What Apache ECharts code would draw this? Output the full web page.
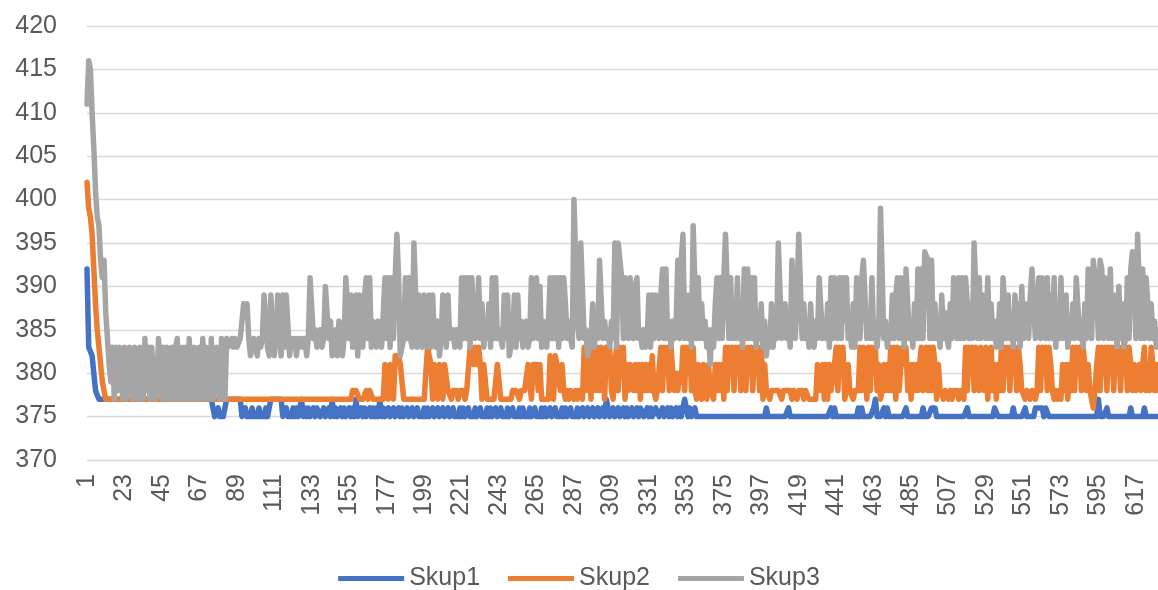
<!DOCTYPE html>
<html>
<head>
<meta charset="utf-8">
<script src="https://cdn.jsdelivr.net/npm/echarts@6/dist/echarts.min.js"></script>
<style>
html,body{margin:0;padding:0;background:#fff;}
#chart{width:1158px;height:590px;}
</style>
</head>
<body>
<div id="chart"></div>
<script>
const seriesNames = ['Skup1', 'Skup2', 'Skup3'];
const yTicks = [370, 375, 380, 385, 390, 395, 400, 405, 410, 415, 420];

const Skup1 = [
392,383,383,382,380,378,378,377,377,377,
377,377,377,377,377,377,377,377,377,377,
377,377,377,377,377,377,377,377,377,377,
377,377,377,377,377,377,377,377,377,377,
377,377,377,377,377,377,377,377,377,377,
377,377,377,377,377,377,377,377,377,377,
377,377,377,377,377,377,377,377,377,377,
377,377,377,377,377,375,375,376,375,375,
375,375,377,377,377,377,377,377,377,377,
377,375,375,376,375,375,375,376,375,375,
375,376,375,375,375,376,375,375,377,377,
377,377,377,377,377,375,375,376,375,375,
375,376,375,376,375,375,377,375,376,375,
376,375,375,376,375,376,376,375,375,376,
375,375,376,375,377,375,376,375,375,376,
375,376,375,375,376,375,376,375,377,375,
375,376,375,376,375,375,376,375,376,375,
376,375,377,375,376,375,375,376,375,375,
376,375,375,376,375,376,375,375,376,375,
375,376,375,375,376,375,375,375,376,375,
376,375,375,376,375,375,376,375,375,376,
375,375,376,375,375,376,375,375,375,376,
375,376,375,375,376,375,375,375,376,375,
375,376,375,375,375,376,375,376,375,375,
376,375,375,376,375,375,375,376,375,375,
376,375,375,375,376,375,376,375,375,375,
376,375,375,376,375,375,375,376,375,376,
375,375,376,375,375,376,375,375,375,376,
375,376,375,375,376,375,375,375,376,375,
375,376,375,375,376,375,375,376,375,375,
376,375,375,376,375,377,376,375,375,376,
375,375,376,375,375,376,375,376,375,375,
376,375,375,376,375,376,376,375,375,376,
375,376,375,375,376,376,375,375,376,375,
375,376,375,376,375,375,376,375,376,375,
376,377,376,375,376,375,375,376,375,375,
375,375,375,375,375,375,375,375,375,375,
375,375,375,375,375,375,375,375,375,375,
375,375,375,375,375,375,375,375,375,375,
375,375,375,375,375,375,375,375,375,376,
375,375,375,375,375,375,375,375,375,375,
375,375,376,375,375,375,375,375,375,375,
375,375,375,375,375,375,375,375,375,375,
375,375,375,375,375,375,375,376,375,376,
375,375,375,375,375,375,375,375,375,375,
375,375,375,376,375,376,375,375,375,375,
375,375,376,377,375,375,375,375,376,375,
376,375,375,375,375,375,375,375,375,375,
375,376,375,375,375,375,375,375,375,375,
375,376,375,375,375,375,376,376,376,375,
375,375,375,375,375,375,375,375,375,375,
375,375,375,375,375,375,375,376,375,375,
375,375,375,375,375,375,375,375,375,375,
375,375,375,376,376,375,375,375,375,375,
375,375,375,375,376,375,375,375,375,375,
375,376,375,375,375,375,375,376,376,376,
376,376,375,376,376,375,375,375,375,375,
375,375,375,375,375,375,375,375,375,375,
375,375,375,375,375,375,375,375,375,375,
375,375,375,375,377,375,375,375,375,376,
375,375,375,375,375,375,375,375,375,375,
375,375,375,376,375,375,375,375,375,375,
375,376,375,375,375,375,375,375,375,375
];

const Skup2 = [
402,399,398,396,392,388,385,383,381,379,
378,377,377,377,377,377,377,377,377,377,
377,377,377,377,377,377,377,377,377,377,
377,377,377,377,377,377,377,377,377,377,
377,377,377,377,377,377,377,377,377,377,
377,377,377,377,377,377,377,377,377,377,
377,377,377,377,377,377,377,377,377,377,
377,377,377,377,377,377,377,377,377,377,
377,377,377,377,377,377,377,377,377,377,
377,377,377,377,377,377,377,377,377,377,
377,377,377,377,377,377,377,377,377,377,
377,377,377,377,377,377,377,377,377,377,
377,377,377,377,377,377,377,377,377,377,
377,377,377,377,377,377,377,377,377,377,
377,377,377,377,377,377,377,377,377,377,
377,377,377,377,377,377,378,378,378,378,
377,377,377,377,378,377,378,378,377,377,
377,377,377,377,377,381,381,377,381,381,
377,382,382,382,381,381,377,377,377,377,
377,377,377,377,377,377,377,377,377,377,
383,383,381,377,381,381,377,381,381,377,
381,381,378,378,377,378,378,378,377,378,
378,378,377,378,378,383,383,381,383,381,
383,381,377,381,381,377,377,377,377,377,
377,381,381,377,377,377,377,377,377,377,
378,378,378,378,377,378,378,378,378,381,
381,377,381,381,381,378,381,377,377,377,
377,377,382,382,377,382,381,381,378,381,
378,377,378,377,378,378,377,378,377,378,
378,377,383,378,383,381,377,383,381,378,
383,378,383,381,377,383,381,383,378,377,
381,383,378,383,381,383,377,381,378,381,
380,378,381,378,381,377,381,378,381,378,
381,378,382,378,377,378,378,383,378,383,
381,383,378,383,380,378,380,378,380,379,
383,378,383,381,383,378,383,378,377,381,
378,377,381,378,377,381,378,378,377,381,
378,381,378,381,377,383,378,383,381,383,
378,383,381,383,378,383,381,378,383,381,
383,378,383,381,383,378,383,377,381,378,
378,377,378,378,378,378,378,378,377,378,
378,378,378,378,377,378,378,377,378,378,
378,377,378,378,377,377,377,377,377,381,
381,378,381,377,381,377,381,378,378,381,
383,378,383,381,383,377,378,381,378,378,
377,378,378,378,383,378,383,381,377,383,
378,383,381,383,378,381,377,378,381,378,
381,378,383,378,383,377,383,378,381,383,
381,383,378,381,377,381,378,381,378,381,
383,378,381,383,378,383,378,383,381,377,
381,378,378,377,378,378,377,378,377,378,
378,378,377,378,378,377,383,378,383,381,
383,378,383,381,378,383,381,378,383,377,
381,383,378,381,377,381,378,383,378,383,
381,383,378,383,381,383,378,383,381,378,
378,377,378,378,377,378,378,377,378,383,
378,383,381,383,378,383,381,378,377,378,
377,378,377,381,378,381,377,381,378,383,
378,383,381,383,378,383,381,378,381,378,
378,376,378,381,383,378,383,381,383,378,
383,381,383,378,383,381,383,378,383,381,
383,378,383,381,378,381,378,378,381,378,
381,383,378,381,378,383,381,378,381,378
];

const Skup3 = [
411,416,415,410,406,401,398,397,393,391,
393,387,384,381,379,383,377,383,378,383,
383,377,383,377,378,383,383,377,383,378,
377,383,383,377,384,378,383,377,383,383,
377,378,384,384,377,383,377,383,379,377,
383,377,383,384,377,378,383,377,383,377,
384,384,377,383,378,377,383,377,384,377,
383,383,377,384,377,377,383,378,377,384,
383,377,384,383,383,384,383,384,383,383,
384,384,388,387,388,384,382,383,384,383,
382,384,383,384,389,389,383,382,389,384,
382,384,389,389,382,389,383,389,389,382,
384,383,384,382,384,383,384,383,384,382,
384,391,391,384,385,383,384,385,383,384,
390,390,384,386,382,384,385,382,386,384,
382,384,391,391,384,389,383,384,389,382,
389,384,383,389,391,384,391,383,386,384,
383,386,384,383,387,391,384,391,383,391,
384,391,396,391,382,382,384,391,384,391,
384,383,395,389,383,389,384,383,389,384,
383,389,383,389,384,383,386,382,384,389,
388,383,389,384,384,385,383,385,384,383,
391,384,391,384,391,383,391,386,384,386,
391,384,388,383,386,384,388,383,391,384,
391,384,385,384,383,389,384,389,382,382,
384,389,383,389,384,386,383,384,386,383,
384,391,384,390,391,384,390,383,386,384,
383,386,391,384,391,384,391,383,391,384,
391,388,384,386,384,383,400,400,386,384,
395,395,384,385,382,382,384,388,383,386,
384,393,393,384,386,384,385,383,386,384,
395,383,395,395,391,384,391,386,384,391,
391,384,390,391,384,385,383,385,383,384,
389,383,389,384,389,389,384,389,392,384,
392,384,386,383,386,384,386,393,384,393,
396,384,389,384,389,383,397,397,384,391,
384,388,384,386,383,385,381,385,383,388,
391,384,391,384,391,396,396,384,391,384,
388,384,391,384,388,383,392,384,392,384,
391,384,391,383,385,384,388,383,386,382,
385,383,388,383,386,384,395,395,384,386,
388,384,386,383,393,393,384,389,396,396,
384,388,384,386,383,388,384,383,386,384,
391,391,384,386,384,388,383,391,384,391,
391,384,391,384,391,386,391,384,386,383,
388,383,391,391,384,391,393,393,384,386,
384,391,384,386,383,385,399,399,384,386,
383,385,384,389,384,389,391,384,391,386,
383,392,392,384,386,383,388,384,392,384,
392,384,394,394,393,384,393,384,388,384,
386,383,389,384,387,384,383,388,384,391,
386,384,391,384,391,384,391,388,384,388,
384,395,395,384,391,384,389,388,384,391,
384,388,384,386,383,384,388,383,391,391,
384,389,384,386,383,389,384,388,383,390,
384,388,386,384,389,392,392,384,386,391,
384,391,388,384,391,384,389,384,391,383,
388,384,391,384,386,389,383,386,384,388,
384,391,391,384,386,383,388,384,392,392,
384,393,393,389,384,393,392,384,391,388,
384,392,384,389,386,383,390,384,388,383,
384,391,384,392,394,391,384,396,396,384,
392,384,391,388,384,388,384,386,383,385
];

const categories = Skup1.map((_, k) => String(k + 1));
const colors = ['#4472C4', '#ED7D31', '#A5A5A5'];
const values = [Skup1, Skup2, Skup3];
const FONT = '"Liberation Sans", Arial, sans-serif';

const chart = echarts.init(document.getElementById('chart'), null, {renderer: 'canvas'});
chart.setOption({
  animation: false,
  backgroundColor: '#ffffff',
  textStyle: {fontFamily: FONT},
  grid: {left: 87, right: 0, top: 26, bottom: 130, containLabel: false},
  xAxis: {
    type: 'category',
    data: categories,
    boundaryGap: false,
    axisLine: {show: true, lineStyle: {color: '#D9D9D9', width: 1}},
    axisTick: {show: false},
    axisLabel: {interval: 21, rotate: 90, color: '#595959', fontSize: 25, fontFamily: FONT, margin: 14},
    splitLine: {show: false}
  },
  yAxis: {
    type: 'value',
    min: yTicks[0],
    max: yTicks[yTicks.length - 1],
    interval: 5,
    axisLine: {show: false},
    axisTick: {show: false},
    axisLabel: {color: '#595959', fontSize: 25, fontFamily: FONT, margin: 30},
    splitLine: {lineStyle: {color: '#D9D9D9', width: 1.3}}
  },
  legend: {
    data: seriesNames,
    top: 561,
    left: 'center',
    icon: 'rect',
    itemWidth: 66,
    itemHeight: 5,
    itemGap: 28,
    textStyle: {color: '#595959', fontSize: 25, fontFamily: FONT, padding: [0, 0, 0, 0]}
  },
  series: seriesNames.map((n, k) => ({
    name: n,
    type: 'line',
    data: values[k],
    showSymbol: false,
    symbol: 'none',
    color: colors[k],
    lineStyle: {color: colors[k], width: 5.5, join: 'round', cap: 'round'},
    emphasis: {disabled: true}
  }))
});
</script>
</body>
</html>
